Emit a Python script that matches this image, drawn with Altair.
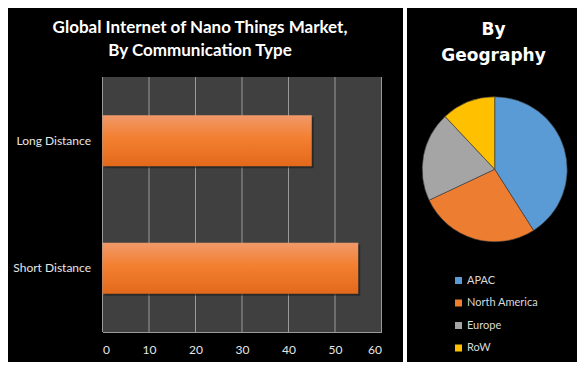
import altair as alt
import pandas as pd

# ---- data ----
categories = ["Long Distance", "Short Distance"]
values = [45, 55]
ticks = [0, 10, 20, 30, 40, 50, 60]
regions = ["APAC", "North America", "Europe", "RoW"]
shares = [41, 27, 20, 12]
region_colors = ["#5b9bd5", "#ed7d31", "#a5a5a5", "#ffc000"]
left_title = ["Global Internet of Nano Things Market,", "By Communication Type"]
right_title = ["By", "Geography"]

bars_df = pd.DataFrame({"type": categories, "value": values})
ticks_df = pd.DataFrame({"tick": ticks})
pie_df = pd.DataFrame({"region": regions, "share": shares, "idx": list(range(len(regions)))})
one = pd.DataFrame({"a": [0]})

FONT = "Lato"
W, H = 569, 324
BOTTOM = 354

xscale = alt.Scale(domain=[0, 60], range=[94.5, 373.5], nice=False, zero=True)
yscale = alt.Scale(domain=categories, range=[69, 324], paddingInner=0.6, paddingOuter=0.3)

def panel(x1, x2, y1, y2, color):
    return alt.Chart(one).mark_rect(color=color).encode(
        x=alt.value(x1), x2=alt.value(x2), y=alt.value(y1), y2=alt.value(y2)
    )

left_panel = panel(0, 395, 0, BOTTOM, "black")
right_panel = panel(399, W, 0, BOTTOM, "black")
plot_bg = panel(94.5, 373.5, 69, 324, "#404040")

grid = alt.Chart(ticks_df).mark_rule(color="#9a9a9a", strokeWidth=1).encode(
    x=alt.X("tick:Q", scale=xscale,
            axis=alt.Axis(orient="bottom", values=ticks, grid=False, ticks=False,
                          domain=True, domainColor="#9a9a9a", labelColor="#e6e6e6",
                          labelFont=FONT, labelFontSize=12, labelPadding=12,
                          title=None, zindex=1)),
    y=alt.value(69), y2=alt.value(324),
)

grad = alt.Gradient(
    gradient="linear",
    stops=[alt.GradientStop(color="#f0996a", offset=0),
           alt.GradientStop(color="#f37f30", offset=0.45),
           alt.GradientStop(color="#e3691b", offset=1)],
    x1=0, x2=0, y1=0, y2=1,
)

shadow = alt.Chart(bars_df).mark_bar(color="#1c1c1c", opacity=0.6, xOffset=2, x2Offset=2,
                                     yOffset=2, y2Offset=2).encode(
    x=alt.X("value:Q", scale=xscale),
    y=alt.Y("type:N", scale=yscale, sort=categories),
)

bars = alt.Chart(bars_df).mark_bar(color=grad).encode(
    x=alt.X("value:Q", scale=xscale),
    y=alt.Y("type:N", scale=yscale, sort=categories,
            axis=alt.Axis(orient="left", offset=-94.5, domain=False, ticks=False,
                          labelColor="#e6e6e6", labelFont=FONT, labelFontSize=12,
                          labelPadding=12, title=None, zindex=1)),
)

pie = alt.Chart(pie_df).mark_arc(radius=72.5, stroke="#3a3a3a", strokeWidth=0.6).encode(
    theta=alt.Theta("share:Q", stack=True),
    color=alt.Color("region:N", sort=regions,
                    scale=alt.Scale(domain=regions, range=region_colors),
                    legend=alt.Legend(orient="none", legendX=445, legendY=267,
                                      symbolType="square", symbolSize=49,
                                      symbolStrokeWidth=0, labelColor="#d9d9d9",
                                      labelFont=FONT, labelFontSize=11,
                                      rowPadding=10.5, labelOffset=3, title=None,
                                      padding=0)),
    order=alt.Order("idx:Q"),
    x=alt.value(486.7), y=alt.value(161.3),
)

def title_text(txt, x, y, size, font=FONT):
    return alt.Chart(one).mark_text(text=txt, font=font, fontWeight="bold", fontSize=size,
                                    color="white", align="center",
                                    baseline="alphabetic").encode(
        x=alt.value(x), y=alt.value(y))

titles = (title_text(left_title[0], 192, 24.7, 17)
          + title_text(left_title[1], 192, 48, 17)
          + title_text(right_title[0], 485.5, 27, 17, "DejaVu Sans")
          + title_text(right_title[1], 485.5, 52.7, 17, "DejaVu Sans"))

chart = alt.layer(
    left_panel, right_panel, plot_bg, grid, shadow, bars, pie, titles
).properties(
    width=W, height=H,
    autosize=alt.AutoSizeParams(type="none"),
    padding={"left": 0, "top": 0, "right": 0, "bottom": BOTTOM - H},
    background="white",
).configure_view(stroke=None)

chart.save("out.html", embed_options={"renderer": "svg", "actions": False})
